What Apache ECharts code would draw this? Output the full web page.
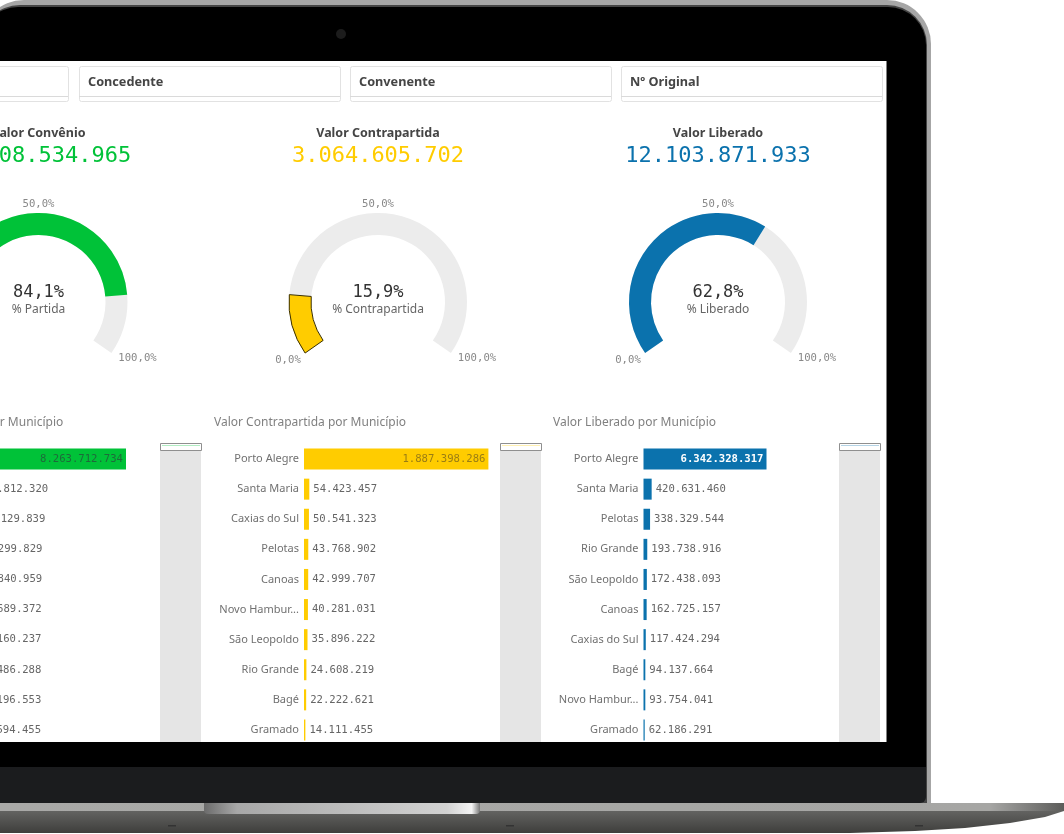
<!DOCTYPE html>
<html>
<head>
<meta charset="utf-8">
<title>Convênios</title>
<style>
  html, body { margin: 0; padding: 0; background: #fff; }
  #chart { width: 1064px; height: 834px; }
</style>
<script src="https://cdn.jsdelivr.net/npm/echarts@6/dist/echarts.min.js"></script>
</head>
<body>
<div id="chart"></div>
<script>
const filterNames = ["", "Concedente", "Convenente", "Nº Original"];

const kpiTitles = ["Valor Convênio", "Valor Contrapartida", "Valor Liberado"];
const kpiValues = ["16.208.534.965", "3.064.605.702", "12.103.871.933"];
const gaugeNames = ["% Partida", "% Contrapartida", "% Liberado"];
const gaugeValues = [84.1, 15.9, 62.8];
const gaugeTicks = [0, 50, 100];
const barTitles = [
  "Valor Convênio por Município",
  "Valor Contrapartida por Município",
  "Valor Liberado por Município",
];

const convenioCities = ["Porto Alegre", "Santa Maria", "Pelotas", "Rio Grande", "Canoas", "Caxias do Sul", "São Leopoldo", "Bagé", "Novo Hambur...", "Gramado"];
const convenioValues = [8263712734, 512812320, 366129839, 217299829, 205840959, 180689372, 170160237, 160486288, 158196553, 146594455];

const contraCities = ["Porto Alegre", "Santa Maria", "Caxias do Sul", "Pelotas", "Canoas", "Novo Hambur...", "São Leopoldo", "Rio Grande", "Bagé", "Gramado"];
const contraValues = [1887398286, 54423457, 50541323, 43768902, 42999707, 40281031, 35896222, 24608219, 22222621, 14111455];

const liberadoCities = ["Porto Alegre", "Santa Maria", "Pelotas", "Rio Grande", "São Leopoldo", "Canoas", "Caxias do Sul", "Bagé", "Novo Hambur...", "Gramado"];
const liberadoValues = [6342328317, 420631460, 338329544, 193738916, 172438093, 162725157, 117424294, 94137664, 93754041, 62186291];

const GREEN = "#00c238";
const YELLOW = "#ffcc00";
const BLUE = "#0b72ad";
const SANS = "'Noto Sans', sans-serif";
const MONO = "'DejaVu Sans Mono', monospace";

const panels = [
  { cx: 38.5, color: GREEN, cities: convenioCities, values: convenioValues, barLeft: -36, barWidth: 162, titleX: -103, thumb: 160, topLabel: "#1d6b3a", topWeight: "normal" },
  { cx: 378, color: YELLOW, cities: contraCities, values: contraValues, barLeft: 304, barWidth: 184.4, titleX: 214, thumb: 500, topLabel: "#9a7d14", topWeight: "normal" },
  { cx: 718, color: BLUE, cities: liberadoCities, values: liberadoValues, barLeft: 643.5, barWidth: 123, titleX: 553, thumb: 839, topLabel: "#ffffff", topWeight: "bold" },
];

function formatBR(n) {
  return String(n).replace(/\B(?=(\d{3})+$)/g, ".");
}

function percentText(v) {
  return v.toFixed(1).replace(".", ",") + "%";
}

function gaugeSeries(p, i) {
  return {
    type: "gauge",
    center: [p.cx, 302],
    radius: 89,
    startAngle: 215,
    endAngle: -35,
    min: 0,
    max: 100,
    pointer: { show: false },
    anchor: { show: false },
    axisTick: { show: false },
    splitLine: { show: false },
    axisLabel: { show: false }, // gauge forces the label align, so ticks are drawn in chrome
    axisLine: { roundCap: false, lineStyle: { width: 22, color: [[1, "#ececec"]] } },
    progress: {
      show: true,
      width: 22,
      itemStyle: i === 1 ? { color: p.color, borderColor: "#3a3000", borderWidth: 1 } : { color: p.color },
    },
    title: { offsetCenter: [0, 8], fontFamily: SANS, fontSize: 12, color: "#666" },
    detail: {
      offsetCenter: [0, -9],
      fontFamily: MONO,
      fontSize: 17,
      fontWeight: "normal",
      color: "#333",
      formatter: percentText,
    },
    data: [{ value: gaugeValues[i], name: gaugeNames[i] }],
  };
}

function barSeries(p, i) {
  return {
    type: "bar",
    xAxisIndex: i,
    yAxisIndex: i,
    barWidth: 21,
    itemStyle: { color: p.color },
    label: {
      show: true,
      position: "right",
      distance: 4,
      fontFamily: MONO,
      fontSize: 10.6,
      color: "#666",
      formatter: (d) => formatBR(d.value),
    },
    data: p.values.map((v, k) =>
      k === 0
        ? { value: v, label: { position: "insideRight", distance: 3, color: p.topLabel, fontWeight: p.topWeight } }
        : v
    ),
  };
}

// laptop body and dashboard chrome, everything below the series
const chrome = [
  { type: "rect", z: 0, shape: { x: -20, y: 0, width: 951, height: 806, r: [44, 44, 0, 0] }, style: { fill: "#a6a6a6" } },
  { type: "rect", z: 0, shape: { x: -20, y: 5, width: 947, height: 801, r: [40, 40, 0, 0] }, style: { fill: "#444" } },
  { type: "rect", z: 0, shape: { x: -20, y: 7, width: 946, height: 760, r: [38, 38, 0, 0] }, style: { fill: "#000" } },
  { type: "rect", z: 0, shape: { x: -20, y: 767, width: 946, height: 36, r: [0, 0, 6, 0] }, style: { fill: "#1b1c1e" } },
  { type: "circle", z: 0, shape: { cx: 341, cy: 34, r: 5 }, style: { fill: "#1c1c1c" } },
  { type: "rect", z: 0, shape: { x: 0, y: 61, width: 886.5, height: 681 }, style: { fill: "#fff" } },
  {
    type: "polygon", z: 0,
    shape: { points: [[0, 811], [1064, 811], [1045, 817], [1010, 823], [965, 828], [915, 831], [850, 833], [0, 833]] },
    style: { fill: new echarts.graphic.LinearGradient(0, 0, 0, 1, [{ offset: 0, color: "#636361" }, { offset: 1, color: "#3e3e3c" }]) },
  },
  {
    type: "rect", z: 0,
    shape: { x: 0, y: 803, width: 1064, height: 8 },
    style: { fill: new echarts.graphic.LinearGradient(0, 0, 1, 0, [{ offset: 0, color: "#a9a9a7" }, { offset: 0.93, color: "#a6a6a4" }, { offset: 1, color: "#5c5c5a" }]) },
  },
  {
    type: "rect", z: 1,
    shape: { x: 204, y: 803, width: 276, height: 11, r: [0, 0, 4, 4] },
    style: { fill: new echarts.graphic.LinearGradient(0, 0, 1, 0, [{ offset: 0, color: "#6b6b6b" }, { offset: 0.12, color: "#a8a8a8" }, { offset: 0.5, color: "#bcbcbc" }, { offset: 0.88, color: "#d2d2d2" }, { offset: 0.97, color: "#f4f4f4" }, { offset: 1, color: "#777" }]) },
  },
  { type: "rect", z: 1, shape: { x: 168, y: 825, width: 8, height: 1.5 }, style: { fill: "#333" } },
  { type: "rect", z: 1, shape: { x: 506, y: 825, width: 8, height: 1.5 }, style: { fill: "#333" } },
  { type: "rect", z: 1, shape: { x: 915, y: 825, width: 8, height: 1.5 }, style: { fill: "#333" } },
];

[-190, 79, 350, 621].forEach((x, i) => {
  const w = i === 0 ? 258 : 261;
  chrome.push(
    { type: "rect", z: 1, shape: { x: x + 0.5, y: 66.5, width: w, height: 35, r: 2 }, style: { fill: "#fff", stroke: "#e2e2e2", lineWidth: 1 } },
    { type: "line", z: 1, shape: { x1: x, y1: 96.5, x2: x + w, y2: 96.5 }, style: { stroke: "#dadada", lineWidth: 1 } },
    { type: "text", z: 1, x: x + 9, y: 76, style: { text: filterNames[i], font: "bold 12.7px " + SANS, fill: "#454545" } }
  );
});

const tickOffsets = [[-90, 58], [0, -98], [99, 56]];

panels.forEach((p) => {
  chrome.push(
    { type: "rect", z: 1, shape: { x: p.thumb, y: 447, width: 41, height: 295 }, style: { fill: "#e5e5e5" } },
    { type: "rect", z: 1, shape: { x: p.thumb + 0.5, y: 443.5, width: 41, height: 7 }, style: { fill: "#fff", stroke: "#8f8f8f", lineWidth: 1 } },
    { type: "line", z: 1, shape: { x1: p.thumb + 2, y1: 445.5, x2: p.thumb + 40, y2: 445.5 }, style: { stroke: p.color, opacity: 0.3, lineWidth: 1 } }
  );
  gaugeTicks.forEach((t, k) => {
    chrome.push({
      type: "text", z: 1,
      x: p.cx + tickOffsets[k][0],
      y: 302 + tickOffsets[k][1],
      style: { text: percentText(t), font: "10.6px " + MONO, fill: "#888", align: "center", verticalAlign: "middle" },
    });
  });
});

const titles = [];
panels.forEach((p, i) => {
  titles.push(
    { text: kpiTitles[i], left: p.cx, top: 127, textAlign: "center", padding: 0, textStyle: { fontFamily: SANS, fontSize: 12.5, fontWeight: "bold", color: "#454545" } },
    { text: kpiValues[i], left: p.cx, top: 145, textAlign: "center", padding: 0, textStyle: { fontFamily: MONO, fontSize: 22, fontWeight: "normal", color: p.color } },
    { text: barTitles[i], left: p.titleX, top: 417, padding: 0, textStyle: { fontFamily: SANS, fontSize: 12, fontWeight: "normal", color: "#808080" } }
  );
});

const chart = echarts.init(document.getElementById("chart"), null, { renderer: "canvas" });
chart.setOption({
  animation: false,
  backgroundColor: "#fff",
  title: titles,
  graphic: { elements: chrome },
  grid: panels.map((p) => ({ left: p.barLeft, width: p.barWidth, top: 444, height: 301, containLabel: false, outerBoundsMode: "none" })),
  xAxis: panels.map((p, i) => ({ gridIndex: i, type: "value", show: false, min: 0, max: p.values[0] })),
  yAxis: panels.map((p, i) => ({
    gridIndex: i,
    type: "category",
    inverse: true,
    data: p.cities,
    axisLine: { show: false },
    axisTick: { show: false },
    axisLabel: { margin: 5, fontFamily: SANS, fontSize: 11, color: "#707070" },
  })),
  series: panels.map(gaugeSeries).concat(panels.map(barSeries)),
});
</script>
</body>
</html>
